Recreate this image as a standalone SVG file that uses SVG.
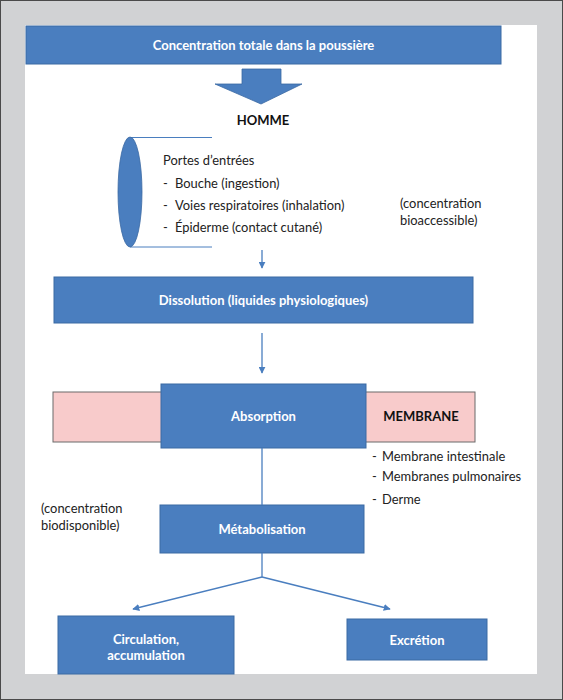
<svg xmlns="http://www.w3.org/2000/svg" width="563" height="700" viewBox="0 0 563 700">
<style>
  .box { fill: #4a7ebf; stroke: #3b6aa3; stroke-width: 1; }
  .wt { fill: #ffffff; font-family: Lato, "Open Sans", "Liberation Sans", sans-serif; font-weight: bold; font-size: 13px; text-anchor: middle; }
  .bt { fill: #111111; font-family: Lato, "Open Sans", "Liberation Sans", sans-serif; font-weight: bold; font-size: 13px; text-anchor: middle; }
  .rt { fill: #222222; font-family: Lato, "Open Sans", "Liberation Sans", sans-serif; font-size: 12.9px; }
  .conn { stroke: #4a7ebf; stroke-width: 1.3; fill: none; }
</style>
<defs>
  <marker id="ah" viewBox="0 0 10 10" refX="9" refY="5" markerWidth="7" markerHeight="7" orient="auto" markerUnits="userSpaceOnUse">
    <path d="M0,0 L10,5 L0,10 z" fill="#4a7ebf"/>
  </marker>
</defs>
<rect x="0.5" y="0.5" width="562" height="699" fill="#d1d2d4" stroke="#4a4a4a" stroke-width="1"/>
<rect x="25" y="25" width="512" height="649" fill="#ffffff"/>

<g id="concentration-totale">
  <rect class="box" x="26" y="26" width="475" height="38"/>
  <text class="wt" x="263.5" y="49.5">Concentration totale dans la poussière</text>
</g>

<g id="big-arrow">
  <polygon points="242,69 281,69 281,84 302,84 261,104 215,84 242,84" fill="#4a7ebf" stroke="#3b6aa3" stroke-width="0.8"/>
</g>

<g id="homme">
  <text class="bt" x="263" y="125">HOMME</text>
</g>

<g id="portes">
  <line x1="130" y1="137.5" x2="212" y2="137.5" stroke="#4a7ebf" stroke-width="1"/>
  <line x1="130" y1="247" x2="212" y2="247" stroke="#4a7ebf" stroke-width="1"/>
  <ellipse cx="130" cy="192" rx="12" ry="55" fill="#4a7ebf" stroke="#3b6aa3" stroke-width="0.8"/>
  <text class="rt" x="163" y="165">Portes d’entrées</text>
  <text class="rt" x="163" y="188">-</text>
  <text class="rt" x="175" y="188">Bouche (ingestion)</text>
  <text class="rt" x="163" y="210">-</text>
  <text class="rt" x="175" y="210">Voies respiratoires (inhalation)</text>
  <text class="rt" x="163" y="232">-</text>
  <text class="rt" x="175" y="232">Épiderme (contact cutané)</text>
</g>

<g id="bioaccessible">
  <text class="rt" x="400" y="208">(concentration</text>
  <text class="rt" x="400" y="225">bioaccessible)</text>
</g>

<g id="dissolution">
  <rect class="box" x="54" y="277" width="419" height="46"/>
  <text class="wt" x="263.5" y="304.5">Dissolution (liquides physiologiques)</text>
</g>

<g id="membrane">
  <rect x="53" y="392" width="422" height="50" fill="#f8cbcb" stroke="#6b6b6b" stroke-width="1"/>
  <text class="bt" x="421" y="420.5">MEMBRANE</text>
</g>

<g id="absorption">
  <rect class="box" x="161" y="384" width="205" height="64"/>
  <text class="wt" x="263.5" y="420.5">Absorption</text>
</g>

<g id="membranes-list">
  <text class="rt" x="372" y="461">-</text>
  <text class="rt" x="382" y="461">Membrane intestinale</text>
  <text class="rt" x="372" y="481">-</text>
  <text class="rt" x="382" y="481">Membranes pulmonaires</text>
  <text class="rt" x="372" y="504">-</text>
  <text class="rt" x="382" y="504">Derme</text>
</g>

<g id="biodisponible">
  <text class="rt" x="41" y="513">(concentration</text>
  <text class="rt" x="41" y="530">biodisponible)</text>
</g>

<g id="metabolisation">
  <rect class="box" x="160" y="505" width="204" height="48"/>
  <text class="wt" x="262" y="533.5">Métabolisation</text>
</g>

<g id="circulation">
  <rect class="box" x="58" y="616" width="176" height="58"/>
  <text class="wt" x="146" y="644">Circulation,</text>
  <text class="wt" x="146" y="659.5">accumulation</text>
</g>

<g id="excretion">
  <rect class="box" x="347" y="619" width="140" height="41"/>
  <text class="wt" x="417" y="644.5">Excrétion</text>
</g>

<g id="connectors">
  <line class="conn" x1="262" y1="250" x2="262" y2="268" marker-end="url(#ah)"/>
  <line class="conn" x1="262" y1="333" x2="262" y2="373" marker-end="url(#ah)"/>
  <line class="conn" x1="262" y1="448" x2="262" y2="505"/>
  <line class="conn" x1="262" y1="553" x2="262" y2="577"/>
  <line class="conn" x1="262" y1="577" x2="133" y2="609" marker-end="url(#ah)"/>
  <line class="conn" x1="262" y1="577" x2="390" y2="609" marker-end="url(#ah)"/>
</g>
</svg>
